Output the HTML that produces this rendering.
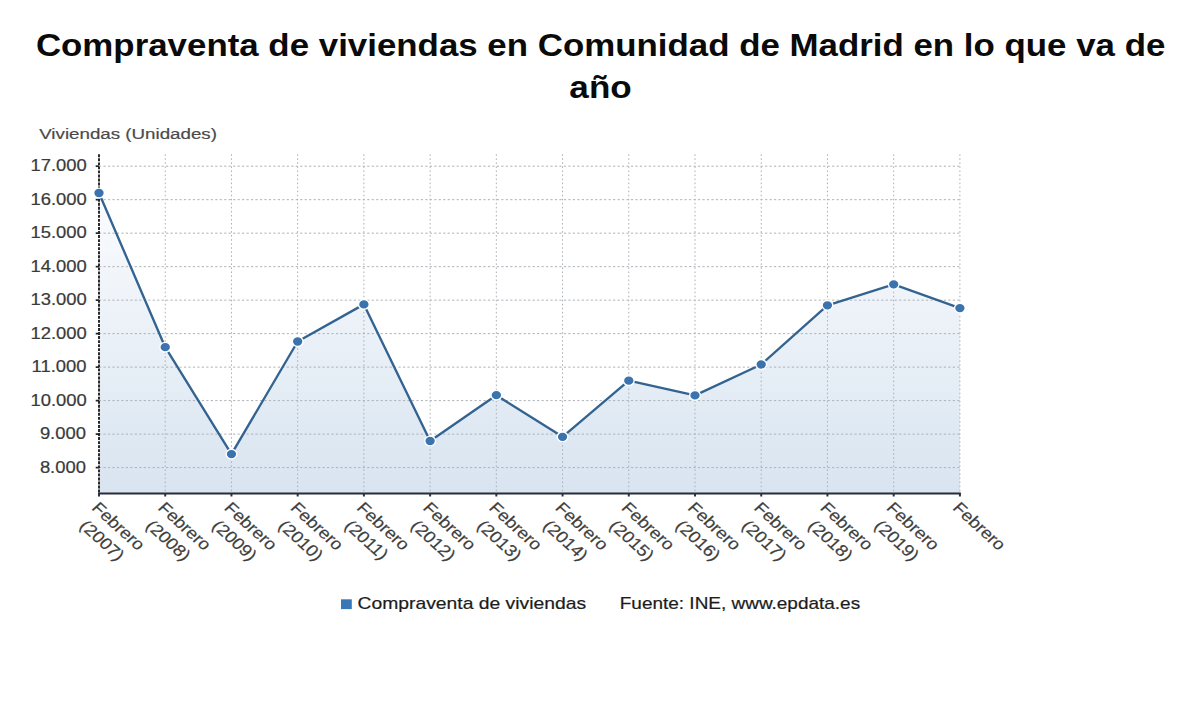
<!DOCTYPE html><html><head><meta charset="utf-8"><style>html,body{margin:0;padding:0;background:#fff;width:1200px;height:705px;overflow:hidden}svg{display:block}text{font-family:"Liberation Sans",sans-serif}</style></head><body>
<svg width="1200" height="705" viewBox="0 0 1200 705">
<defs><linearGradient id="fg" x1="0" y1="192.98" x2="0" y2="493.5" gradientUnits="userSpaceOnUse"><stop offset="0" stop-color="#fbfcfe"/><stop offset="1" stop-color="#d8e4f0"/></linearGradient></defs>
<polygon points="99.00,493.5 99.00,192.98 165.22,347.20 231.45,454.10 297.67,341.51 363.89,304.40 430.12,441.01 496.34,395.19 562.56,436.79 628.78,380.69 695.01,395.40 761.23,364.48 827.45,305.31 893.68,284.31 959.90,308.09 959.90,493.5" fill="url(#fg)"/>
<line x1="99.0" y1="467.60" x2="960.40" y2="467.60" stroke="#acb1b6" stroke-width="1" stroke-dasharray="2.2,2.27"/>
<line x1="99.0" y1="434.11" x2="960.40" y2="434.11" stroke="#acb1b6" stroke-width="1" stroke-dasharray="2.2,2.27"/>
<line x1="99.0" y1="400.62" x2="960.40" y2="400.62" stroke="#acb1b6" stroke-width="1" stroke-dasharray="2.2,2.27"/>
<line x1="99.0" y1="367.13" x2="960.40" y2="367.13" stroke="#acb1b6" stroke-width="1" stroke-dasharray="2.2,2.27"/>
<line x1="99.0" y1="333.64" x2="960.40" y2="333.64" stroke="#acb1b6" stroke-width="1" stroke-dasharray="2.2,2.27"/>
<line x1="99.0" y1="300.15" x2="960.40" y2="300.15" stroke="#acb1b6" stroke-width="1" stroke-dasharray="2.2,2.27"/>
<line x1="99.0" y1="266.66" x2="960.40" y2="266.66" stroke="#acb1b6" stroke-width="1" stroke-dasharray="2.2,2.27"/>
<line x1="99.0" y1="233.17" x2="960.40" y2="233.17" stroke="#acb1b6" stroke-width="1" stroke-dasharray="2.2,2.27"/>
<line x1="99.0" y1="199.68" x2="960.40" y2="199.68" stroke="#acb1b6" stroke-width="1" stroke-dasharray="2.2,2.27"/>
<line x1="99.0" y1="166.19" x2="960.40" y2="166.19" stroke="#acb1b6" stroke-width="1" stroke-dasharray="2.2,2.27"/>
<line x1="165.22" y1="154.3" x2="165.22" y2="493.5" stroke="#acb1b6" stroke-width="1" stroke-dasharray="1.6,2.44"/>
<line x1="231.45" y1="154.3" x2="231.45" y2="493.5" stroke="#acb1b6" stroke-width="1" stroke-dasharray="1.6,2.44"/>
<line x1="297.67" y1="154.3" x2="297.67" y2="493.5" stroke="#acb1b6" stroke-width="1" stroke-dasharray="1.6,2.44"/>
<line x1="363.89" y1="154.3" x2="363.89" y2="493.5" stroke="#acb1b6" stroke-width="1" stroke-dasharray="1.6,2.44"/>
<line x1="430.12" y1="154.3" x2="430.12" y2="493.5" stroke="#acb1b6" stroke-width="1" stroke-dasharray="1.6,2.44"/>
<line x1="496.34" y1="154.3" x2="496.34" y2="493.5" stroke="#acb1b6" stroke-width="1" stroke-dasharray="1.6,2.44"/>
<line x1="562.56" y1="154.3" x2="562.56" y2="493.5" stroke="#acb1b6" stroke-width="1" stroke-dasharray="1.6,2.44"/>
<line x1="628.78" y1="154.3" x2="628.78" y2="493.5" stroke="#acb1b6" stroke-width="1" stroke-dasharray="1.6,2.44"/>
<line x1="695.01" y1="154.3" x2="695.01" y2="493.5" stroke="#acb1b6" stroke-width="1" stroke-dasharray="1.6,2.44"/>
<line x1="761.23" y1="154.3" x2="761.23" y2="493.5" stroke="#acb1b6" stroke-width="1" stroke-dasharray="1.6,2.44"/>
<line x1="827.45" y1="154.3" x2="827.45" y2="493.5" stroke="#acb1b6" stroke-width="1" stroke-dasharray="1.6,2.44"/>
<line x1="893.68" y1="154.3" x2="893.68" y2="493.5" stroke="#acb1b6" stroke-width="1" stroke-dasharray="1.6,2.44"/>
<line x1="959.90" y1="154.3" x2="959.90" y2="493.5" stroke="#acb1b6" stroke-width="1" stroke-dasharray="1.6,2.44"/>
<line x1="99.0" y1="154.3" x2="99.0" y2="493.5" stroke="#2a2a2a" stroke-width="2" stroke-dasharray="2.9,1.14"/>
<line x1="95.7" y1="467.60" x2="99.0" y2="467.60" stroke="#222" stroke-width="1.7"/>
<line x1="95.7" y1="434.11" x2="99.0" y2="434.11" stroke="#222" stroke-width="1.7"/>
<line x1="95.7" y1="400.62" x2="99.0" y2="400.62" stroke="#222" stroke-width="1.7"/>
<line x1="95.7" y1="367.13" x2="99.0" y2="367.13" stroke="#222" stroke-width="1.7"/>
<line x1="95.7" y1="333.64" x2="99.0" y2="333.64" stroke="#222" stroke-width="1.7"/>
<line x1="95.7" y1="300.15" x2="99.0" y2="300.15" stroke="#222" stroke-width="1.7"/>
<line x1="95.7" y1="266.66" x2="99.0" y2="266.66" stroke="#222" stroke-width="1.7"/>
<line x1="95.7" y1="233.17" x2="99.0" y2="233.17" stroke="#222" stroke-width="1.7"/>
<line x1="95.7" y1="199.68" x2="99.0" y2="199.68" stroke="#222" stroke-width="1.7"/>
<line x1="95.7" y1="166.19" x2="99.0" y2="166.19" stroke="#222" stroke-width="1.7"/>
<line x1="98.0" y1="493.5" x2="960.90" y2="493.5" stroke="#262d38" stroke-width="2.1"/>
<line x1="99.00" y1="493.5" x2="99.00" y2="496.5" stroke="#2b3340" stroke-width="2"/>
<line x1="165.22" y1="493.5" x2="165.22" y2="496.5" stroke="#2b3340" stroke-width="2"/>
<line x1="231.45" y1="493.5" x2="231.45" y2="496.5" stroke="#2b3340" stroke-width="2"/>
<line x1="297.67" y1="493.5" x2="297.67" y2="496.5" stroke="#2b3340" stroke-width="2"/>
<line x1="363.89" y1="493.5" x2="363.89" y2="496.5" stroke="#2b3340" stroke-width="2"/>
<line x1="430.12" y1="493.5" x2="430.12" y2="496.5" stroke="#2b3340" stroke-width="2"/>
<line x1="496.34" y1="493.5" x2="496.34" y2="496.5" stroke="#2b3340" stroke-width="2"/>
<line x1="562.56" y1="493.5" x2="562.56" y2="496.5" stroke="#2b3340" stroke-width="2"/>
<line x1="628.78" y1="493.5" x2="628.78" y2="496.5" stroke="#2b3340" stroke-width="2"/>
<line x1="695.01" y1="493.5" x2="695.01" y2="496.5" stroke="#2b3340" stroke-width="2"/>
<line x1="761.23" y1="493.5" x2="761.23" y2="496.5" stroke="#2b3340" stroke-width="2"/>
<line x1="827.45" y1="493.5" x2="827.45" y2="496.5" stroke="#2b3340" stroke-width="2"/>
<line x1="893.68" y1="493.5" x2="893.68" y2="496.5" stroke="#2b3340" stroke-width="2"/>
<line x1="959.90" y1="493.5" x2="959.90" y2="496.5" stroke="#2b3340" stroke-width="2"/>
<polyline points="99.00,192.98 165.22,347.20 231.45,454.10 297.67,341.51 363.89,304.40 430.12,441.01 496.34,395.19 562.56,436.79 628.78,380.69 695.01,395.40 761.23,364.48 827.45,305.31 893.68,284.31 959.90,308.09" fill="none" stroke="#336390" stroke-width="2.35" stroke-linejoin="round"/>
<ellipse cx="99.00" cy="192.98" rx="5.35" ry="4.85" fill="#3a73ae" stroke="#fff" stroke-width="1.4"/>
<ellipse cx="165.22" cy="347.20" rx="5.35" ry="4.85" fill="#3a73ae" stroke="#fff" stroke-width="1.4"/>
<ellipse cx="231.45" cy="454.10" rx="5.35" ry="4.85" fill="#3a73ae" stroke="#fff" stroke-width="1.4"/>
<ellipse cx="297.67" cy="341.51" rx="5.35" ry="4.85" fill="#3a73ae" stroke="#fff" stroke-width="1.4"/>
<ellipse cx="363.89" cy="304.40" rx="5.35" ry="4.85" fill="#3a73ae" stroke="#fff" stroke-width="1.4"/>
<ellipse cx="430.12" cy="441.01" rx="5.35" ry="4.85" fill="#3a73ae" stroke="#fff" stroke-width="1.4"/>
<ellipse cx="496.34" cy="395.19" rx="5.35" ry="4.85" fill="#3a73ae" stroke="#fff" stroke-width="1.4"/>
<ellipse cx="562.56" cy="436.79" rx="5.35" ry="4.85" fill="#3a73ae" stroke="#fff" stroke-width="1.4"/>
<ellipse cx="628.78" cy="380.69" rx="5.35" ry="4.85" fill="#3a73ae" stroke="#fff" stroke-width="1.4"/>
<ellipse cx="695.01" cy="395.40" rx="5.35" ry="4.85" fill="#3a73ae" stroke="#fff" stroke-width="1.4"/>
<ellipse cx="761.23" cy="364.48" rx="5.35" ry="4.85" fill="#3a73ae" stroke="#fff" stroke-width="1.4"/>
<ellipse cx="827.45" cy="305.31" rx="5.35" ry="4.85" fill="#3a73ae" stroke="#fff" stroke-width="1.4"/>
<ellipse cx="893.68" cy="284.31" rx="5.35" ry="4.85" fill="#3a73ae" stroke="#fff" stroke-width="1.4"/>
<ellipse cx="959.90" cy="308.09" rx="5.35" ry="4.85" fill="#3a73ae" stroke="#fff" stroke-width="1.4"/>
<text transform="translate(35.88,55.90) scale(1.1250,1)" font-size="31" font-weight="bold" fill="#0a0a0a" stroke="#0a0a0a" stroke-width="0.0">Compraventa de viviendas en Comunidad de Madrid en lo que va de</text>
<text transform="translate(569.37,97.80) scale(1.1321,1)" font-size="31" font-weight="bold" fill="#0a0a0a" stroke="#0a0a0a" stroke-width="0.0">año</text>
<text transform="translate(39.20,138.60) scale(1.2096,1)" font-size="15.5" fill="#4a4a4a" stroke="#4a4a4a" stroke-width="0.2">Viviendas (Unidades)</text>
<text transform="translate(39.88,472.70) scale(1.1800,1)" font-size="15.6" fill="#3a3a3a" stroke="#3a3a3a" stroke-width="0.2">8.000</text>
<text transform="translate(39.88,439.21) scale(1.1800,1)" font-size="15.6" fill="#3a3a3a" stroke="#3a3a3a" stroke-width="0.2">9.000</text>
<text transform="translate(30.44,405.72) scale(1.1800,1)" font-size="15.6" fill="#3a3a3a" stroke="#3a3a3a" stroke-width="0.2">10.000</text>
<text transform="translate(31.62,372.23) scale(1.1800,1)" font-size="15.6" fill="#3a3a3a" stroke="#3a3a3a" stroke-width="0.2">11.000</text>
<text transform="translate(30.44,338.74) scale(1.1800,1)" font-size="15.6" fill="#3a3a3a" stroke="#3a3a3a" stroke-width="0.2">12.000</text>
<text transform="translate(30.44,305.25) scale(1.1800,1)" font-size="15.6" fill="#3a3a3a" stroke="#3a3a3a" stroke-width="0.2">13.000</text>
<text transform="translate(30.44,271.76) scale(1.1800,1)" font-size="15.6" fill="#3a3a3a" stroke="#3a3a3a" stroke-width="0.2">14.000</text>
<text transform="translate(30.44,238.27) scale(1.1800,1)" font-size="15.6" fill="#3a3a3a" stroke="#3a3a3a" stroke-width="0.2">15.000</text>
<text transform="translate(30.44,204.78) scale(1.1800,1)" font-size="15.6" fill="#3a3a3a" stroke="#3a3a3a" stroke-width="0.2">16.000</text>
<text transform="translate(30.44,171.29) scale(1.1800,1)" font-size="15.6" fill="#3a3a3a" stroke="#3a3a3a" stroke-width="0.2">17.000</text>
<text transform="translate(357.47,609.30) scale(1.2310,1)" font-size="15.7" fill="#1c1c1c" stroke="#1c1c1c" stroke-width="0.2">Compraventa de viviendas</text>
<text transform="translate(619.79,609.30) scale(1.2081,1)" font-size="15.7" fill="#1c1c1c" stroke="#1c1c1c" stroke-width="0.2">Fuente: INE, www.epdata.es</text>
<g transform="translate(91.60,509.6) scale(1.106,1) rotate(45)" fill="#3e3e3e" stroke="#3e3e3e" stroke-width="0.2" font-size="16"><text transform="translate(-1.07,0) scale(1.07,1)">Febrero</text><text transform="translate(3.83,20.5) scale(1.07,1)">(2007)</text></g>
<g transform="translate(157.82,509.6) scale(1.106,1) rotate(45)" fill="#3e3e3e" stroke="#3e3e3e" stroke-width="0.2" font-size="16"><text transform="translate(-1.07,0) scale(1.07,1)">Febrero</text><text transform="translate(3.83,20.5) scale(1.07,1)">(2008)</text></g>
<g transform="translate(224.05,509.6) scale(1.106,1) rotate(45)" fill="#3e3e3e" stroke="#3e3e3e" stroke-width="0.2" font-size="16"><text transform="translate(-1.07,0) scale(1.07,1)">Febrero</text><text transform="translate(3.83,20.5) scale(1.07,1)">(2009)</text></g>
<g transform="translate(290.27,509.6) scale(1.106,1) rotate(45)" fill="#3e3e3e" stroke="#3e3e3e" stroke-width="0.2" font-size="16"><text transform="translate(-1.07,0) scale(1.07,1)">Febrero</text><text transform="translate(3.83,20.5) scale(1.07,1)">(2010)</text></g>
<g transform="translate(356.49,509.6) scale(1.106,1) rotate(45)" fill="#3e3e3e" stroke="#3e3e3e" stroke-width="0.2" font-size="16"><text transform="translate(-1.07,0) scale(1.07,1)">Febrero</text><text transform="translate(3.83,20.5) scale(1.07,1)">(2011)</text></g>
<g transform="translate(422.72,509.6) scale(1.106,1) rotate(45)" fill="#3e3e3e" stroke="#3e3e3e" stroke-width="0.2" font-size="16"><text transform="translate(-1.07,0) scale(1.07,1)">Febrero</text><text transform="translate(3.83,20.5) scale(1.07,1)">(2012)</text></g>
<g transform="translate(488.94,509.6) scale(1.106,1) rotate(45)" fill="#3e3e3e" stroke="#3e3e3e" stroke-width="0.2" font-size="16"><text transform="translate(-1.07,0) scale(1.07,1)">Febrero</text><text transform="translate(3.83,20.5) scale(1.07,1)">(2013)</text></g>
<g transform="translate(555.16,509.6) scale(1.106,1) rotate(45)" fill="#3e3e3e" stroke="#3e3e3e" stroke-width="0.2" font-size="16"><text transform="translate(-1.07,0) scale(1.07,1)">Febrero</text><text transform="translate(3.83,20.5) scale(1.07,1)">(2014)</text></g>
<g transform="translate(621.38,509.6) scale(1.106,1) rotate(45)" fill="#3e3e3e" stroke="#3e3e3e" stroke-width="0.2" font-size="16"><text transform="translate(-1.07,0) scale(1.07,1)">Febrero</text><text transform="translate(3.83,20.5) scale(1.07,1)">(2015)</text></g>
<g transform="translate(687.61,509.6) scale(1.106,1) rotate(45)" fill="#3e3e3e" stroke="#3e3e3e" stroke-width="0.2" font-size="16"><text transform="translate(-1.07,0) scale(1.07,1)">Febrero</text><text transform="translate(3.83,20.5) scale(1.07,1)">(2016)</text></g>
<g transform="translate(753.83,509.6) scale(1.106,1) rotate(45)" fill="#3e3e3e" stroke="#3e3e3e" stroke-width="0.2" font-size="16"><text transform="translate(-1.07,0) scale(1.07,1)">Febrero</text><text transform="translate(3.83,20.5) scale(1.07,1)">(2017)</text></g>
<g transform="translate(820.05,509.6) scale(1.106,1) rotate(45)" fill="#3e3e3e" stroke="#3e3e3e" stroke-width="0.2" font-size="16"><text transform="translate(-1.07,0) scale(1.07,1)">Febrero</text><text transform="translate(3.83,20.5) scale(1.07,1)">(2018)</text></g>
<g transform="translate(886.28,509.6) scale(1.106,1) rotate(45)" fill="#3e3e3e" stroke="#3e3e3e" stroke-width="0.2" font-size="16"><text transform="translate(-1.07,0) scale(1.07,1)">Febrero</text><text transform="translate(3.83,20.5) scale(1.07,1)">(2019)</text></g>
<g transform="translate(952.50,509.6) scale(1.106,1) rotate(45)" fill="#3e3e3e" stroke="#3e3e3e" stroke-width="0.2" font-size="16"><text transform="translate(-1.07,0) scale(1.07,1)">Febrero</text></g>
<rect x="341" y="599.3" width="10.8" height="9.8" fill="#3a77b6"/>
</svg></body></html>
